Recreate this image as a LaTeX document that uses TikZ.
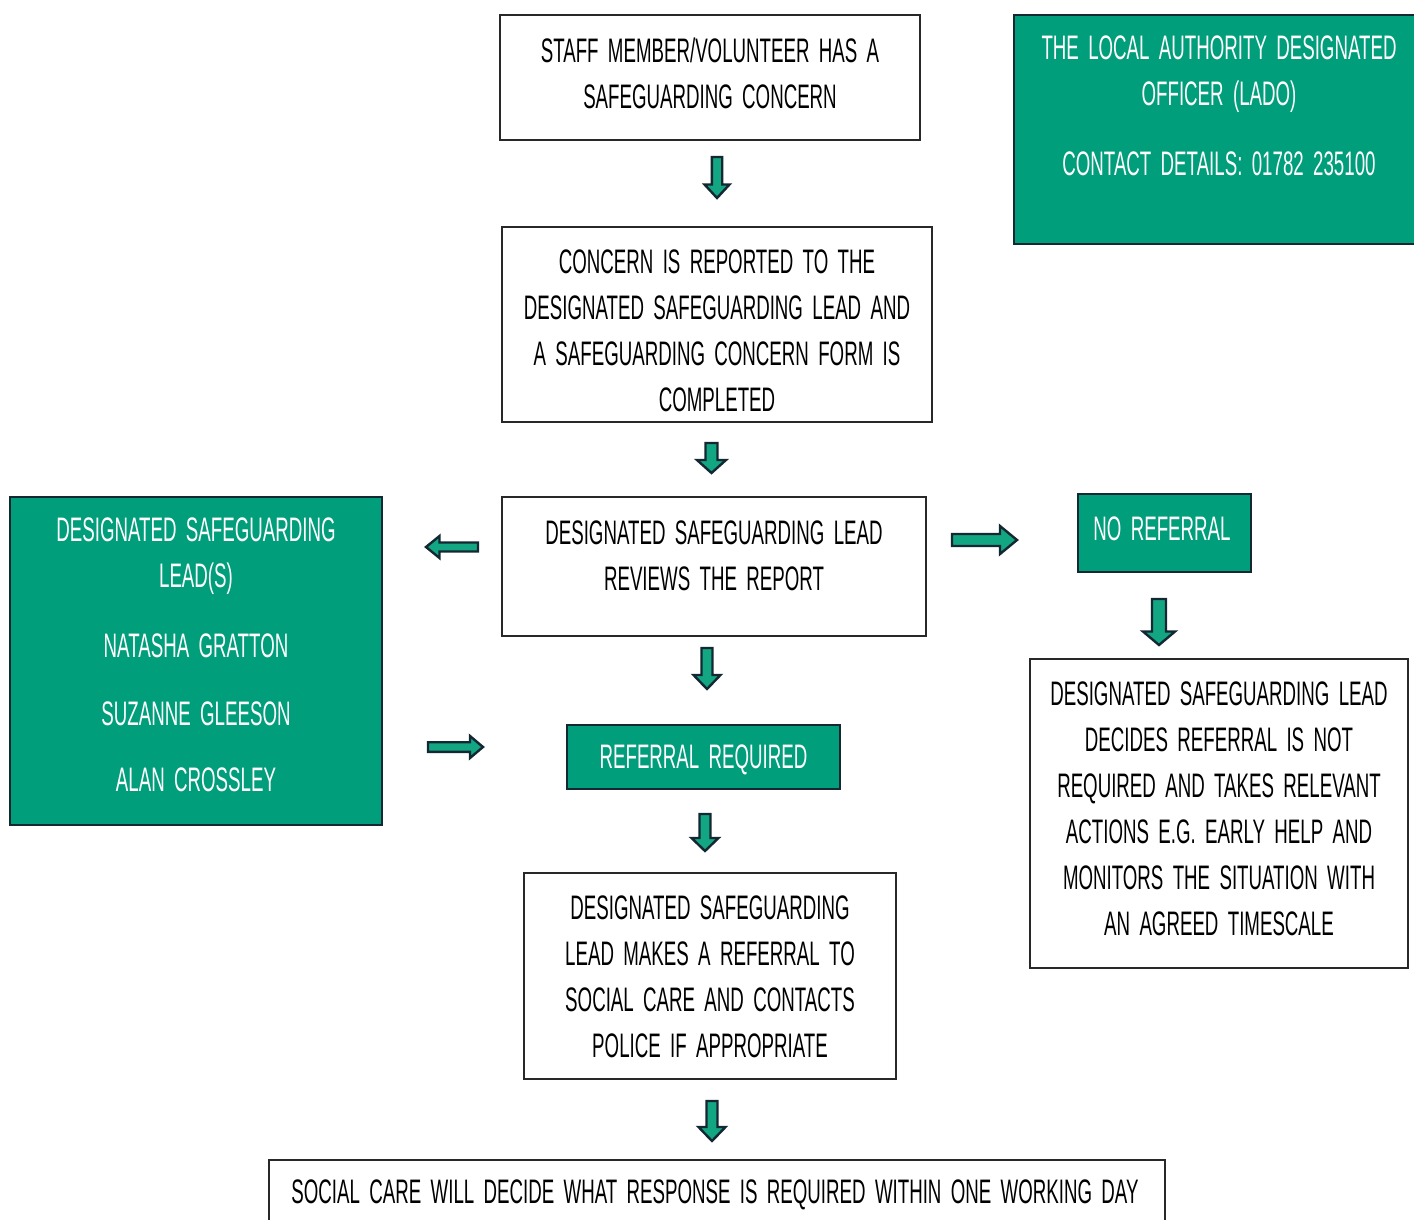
\documentclass[tikz,border=0pt]{standalone}
\usepackage{fontspec}
\newfontfamily\dfont[FakeStretch=0.55,WordSpace=1.8]{Liberation Sans}
\definecolor{dgreen}{RGB}{0,158,123}
\definecolor{afill}{RGB}{18,166,130}
\definecolor{aline}{RGB}{20,40,52}
\definecolor{bline}{RGB}{40,40,40}
\newcommand\barrow[8]{%
  \begin{scope}[shift={(#2,#3)},rotate=#4]
    \draw[arrowstyle] (0,-#6) -- (#5-#8,-#6) -- (#5-#8,-#7) -- (#5,0) -- (#5-#8,#7) -- (#5-#8,#6) -- (0,#6) -- cycle;
  \end{scope}
  \coordinate (#1) at (#2,#3);}
\begin{document}
\begin{tikzpicture}[x=1pt,y=-1pt,
  arrowstyle/.style={fill=afill,draw=aline,line width=2.4pt,line join=miter},
  whitebox/.style={draw=bline,line width=1.3pt,fill=white},
  greenbox/.style={draw=aline,line width=1.3pt,fill=dgreen},
  btext/.style={font=\dfont\fontsize{34}{46}\selectfont,align=center,inner sep=0pt,text=black},
  wtext/.style={btext,text=white}]
\useasboundingbox (0,0) rectangle (1414,1219);
\begin{scope}
\clip (0,0) rectangle (1414,1219);
% boxes
\path[whitebox] (500,15) rectangle (920,140);
\node[inner sep=0] (staff) at (710,77.5) {};
\node[btext] (staff-t) at (710,73) {STAFF MEMBER/VOLUNTEER HAS A\\SAFEGUARDING CONCERN};

\path[greenbox] (1014,15) rectangle (1420,244);
\node[inner sep=0] (lado) at (1214,129.5) {};
\node[wtext] (lado-t) at (1219,74) {THE LOCAL AUTHORITY DESIGNATED\\OFFICER (LADO)};
\node[wtext] (lado-c) at (1219,164) {CONTACT DETAILS: 01782 235100};

\path[whitebox] (502,227) rectangle (932,422);
\node[inner sep=0] (concern) at (717,324.5) {};
\node[btext] (concern-t) at (717,331) {CONCERN IS REPORTED TO THE\\DESIGNATED SAFEGUARDING LEAD AND\\A SAFEGUARDING CONCERN FORM IS\\COMPLETED};

\path[greenbox] (10,497) rectangle (382,825);
\node[inner sep=0] (dsl) at (196,661) {};
\node[wtext] (dsl-t1) at (196,556) {DESIGNATED SAFEGUARDING\\LEAD(S)};
\node[wtext] (dsl-t2) at (196,646) {NATASHA GRATTON};
\node[wtext] (dsl-t3) at (196,714) {SUZANNE GLEESON};
\node[wtext] (dsl-t4) at (196,780) {ALAN CROSSLEY};

\path[whitebox] (502,497) rectangle (926,636);
\node[inner sep=0] (review) at (714,566.5) {};
\node[btext] (review-t) at (714,555.5) {DESIGNATED SAFEGUARDING LEAD\\REVIEWS THE REPORT};

\path[greenbox] (1078,494) rectangle (1251,572);
\node[inner sep=0] (noref) at (1164.5,533) {};
\node[wtext] (noref-t) at (1162,529) {NO REFERRAL};

\path[greenbox] (567,725) rectangle (840,789);
\node[inner sep=0] (refreq) at (703.5,757) {};
\node[wtext] (refreq-t) at (703.5,759.5) {REFERRAL REQUIRED};

\path[whitebox] (1030,659) rectangle (1408,968);
\node[inner sep=0] (decides) at (1219,813.5) {};
\node[btext] (decides-t) at (1219,809) {DESIGNATED SAFEGUARDING LEAD\\DECIDES REFERRAL IS NOT\\REQUIRED AND TAKES RELEVANT\\ACTIONS E.G. EARLY HELP AND\\MONITORS THE SITUATION WITH\\AN AGREED TIMESCALE};

\path[whitebox] (524,873) rectangle (896,1079);
\node[inner sep=0] (makes) at (710,976) {};
\node[btext] (makes-t) at (710,977) {DESIGNATED SAFEGUARDING\\LEAD MAKES A REFERRAL TO\\SOCIAL CARE AND CONTACTS\\POLICE IF APPROPRIATE};

\path[whitebox] (269,1160) rectangle (1165,1240);
\node[inner sep=0] (social) at (717,1195) {};
\node[btext] (social-t) at (715,1195) {SOCIAL CARE WILL DECIDE WHAT RESPONSE IS REQUIRED WITHIN ONE WORKING DAY};

% block arrows
\barrow{a1}{717}{157}{-90}{41}{5.2}{12.5}{13.5}
\barrow{a2}{711.5}{443}{-90}{30}{6}{14.5}{13}
\barrow{a3}{478}{547}{180}{52}{4.5}{11}{13.5}
\barrow{a4}{952}{540}{0}{65}{6}{14}{17}
\barrow{a5}{707}{648}{-90}{41}{5.5}{13.5}{14}
\barrow{a6}{1159}{599}{-90}{46}{7}{16}{13.5}
\barrow{a7}{428}{747}{0}{55}{4.8}{11}{13}
\barrow{a8}{705}{814}{-90}{37}{5.5}{13.5}{13}
\barrow{a9}{712}{1101}{-90}{40}{5.5}{13.5}{14}
\end{scope}
\end{tikzpicture}
\end{document}
